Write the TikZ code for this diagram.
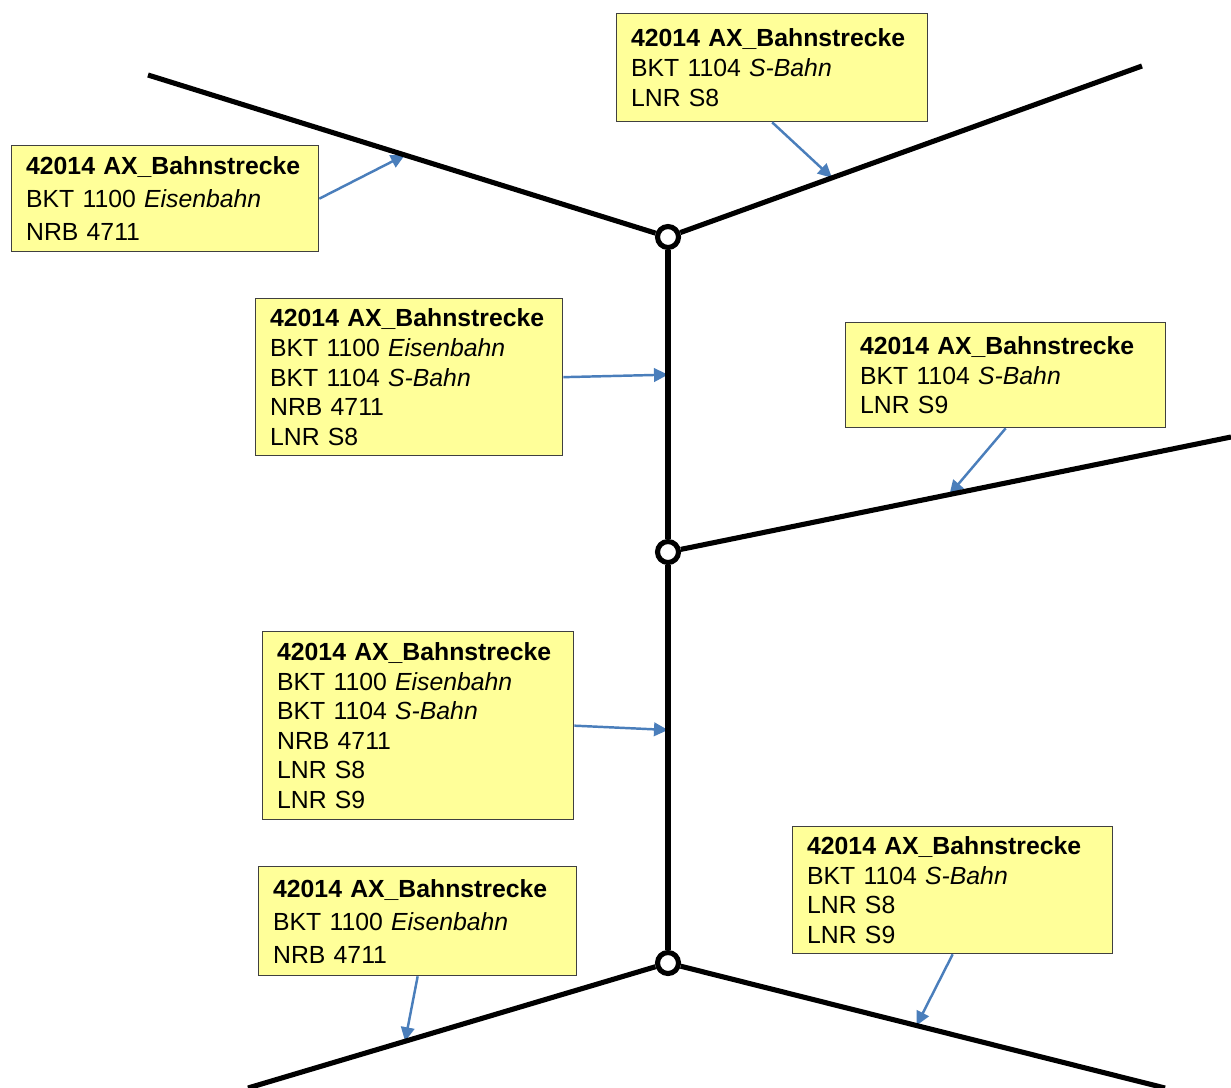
\documentclass[tikz,border=0pt]{standalone}
\usepackage{fontspec}
\setmainfont{Liberation Sans}
\usetikzlibrary{arrows.meta,calc}
\definecolor{boxfill}{HTML}{FFFF99}
\definecolor{boxdraw}{HTML}{404040}
\definecolor{pointerblue}{HTML}{4A7EBB}
\tikzset{
  >={Triangle[length=2.8mm,width=2.7mm]},
  track/.style={line width=2.9pt, draw=black},
  junction/.style={
    circle,
    draw=black,
    line width=2.9pt,
    fill=white,
    minimum size=4.2mm,
    inner sep=0pt,
  },
  attrbox/.style={
    draw=boxdraw,
    fill=boxfill,
    line width=0.75pt,
    anchor=north west,
    align=left,
    inner xsep=2.9mm,
    inner ysep=0pt,
    font=\fontsize{14.1}{16.8}\selectfont,
  },
  loosebox/.style={attrbox, font=\fontsize{14.1}{18.8}\selectfont},
  pointer/.style={->, draw=pointerblue, fill=pointerblue, line width=1.4pt},
}

\begin{document}
\begin{tikzpicture}[x=0.2mm, y=-0.2mm]
  \useasboundingbox (0,0) rectangle (1231,1088);

  % track geometry
  \node[junction] (jtop) at (668,237) {};
  \node[junction] (jmid) at (668,552) {};
  \node[junction] (jbot) at (668,963) {};
  \coordinate (nw) at (148,75);
  \coordinate (ne) at (1142,66);
  \coordinate (re) at (1231,437);
  \coordinate (sw) at (248,1088);
  \coordinate (se) at (1165,1088);

  % attribute boxes
  \node[loosebox, text width=55.6mm, minimum height=21.2mm] (boxa) at (11,145)
    {\textbf{42014 AX\_Bahnstrecke}\\BKT 1100 \textit{Eisenbahn}\\NRB 4711};
  \node[attrbox, text width=56.4mm, minimum height=21.6mm] (boxb) at (616,13)
    {\textbf{42014 AX\_Bahnstrecke}\\BKT 1104 \textit{S-Bahn}\\LNR S8};
  \node[attrbox, text width=55.6mm, minimum height=31.4mm] (boxc) at (255,298)
    {\textbf{42014 AX\_Bahnstrecke}\\BKT 1100 \textit{Eisenbahn}\\BKT 1104 \textit{S-Bahn}\\NRB 4711\\LNR S8};
  \node[attrbox, text width=58.2mm, minimum height=21mm] (boxd) at (845,322)
    {\textbf{42014 AX\_Bahnstrecke}\\BKT 1104 \textit{S-Bahn}\\LNR S9};
  \node[attrbox, text width=56.4mm, minimum height=37.6mm] (boxe) at (262,631)
    {\textbf{42014 AX\_Bahnstrecke}\\BKT 1100 \textit{Eisenbahn}\\BKT 1104 \textit{S-Bahn}\\NRB 4711\\LNR S8\\LNR S9};
  \node[loosebox, text width=57.8mm, minimum height=21.8mm] (boxf) at (258,866)
    {\textbf{42014 AX\_Bahnstrecke}\\BKT 1100 \textit{Eisenbahn}\\NRB 4711};
  \node[attrbox, text width=58.2mm, minimum height=25.4mm] (boxg) at (792,826)
    {\textbf{42014 AX\_Bahnstrecke}\\BKT 1104 \textit{S-Bahn}\\LNR S8\\LNR S9};

  % points the boxes refer to
  \coordinate (ha) at ($(nw)!0.494!(jtop)$);
  \coordinate (hb) at ($(jtop)!0.346!(ne)$);
  \coordinate (hc) at ($(jtop)!0.437!(jmid)$);
  \coordinate (hd) at ($(jmid)!0.5!(re)$);
  \coordinate (he) at ($(jmid)!0.433!(jbot)$);
  \coordinate (hf) at ($(sw)!0.374!(jbot)$);
  \coordinate (hg) at ($(jbot)!0.5!(se)$);

  \draw[pointer] (boxa.east) -- (ha);
  \draw[pointer] (boxb.south) -- (hb);
  \draw[pointer] (boxc.east) -- (hc);
  \draw[pointer] (boxd.south) -- (hd);
  \draw[pointer] (boxe.east) -- (he);
  \draw[pointer] (boxf.south) -- (hf);
  \draw[pointer] (boxg.south) -- (hg);

  \draw[track] (nw) -- (jtop);
  \draw[track] (jtop) -- (ne);
  \draw[track] (jtop) -- (jmid) -- (jbot);
  \draw[track] (jmid) -- (re);
  \draw[track] (sw) -- (jbot);
  \draw[track] (jbot) -- (se);
\end{tikzpicture}
\end{document}
